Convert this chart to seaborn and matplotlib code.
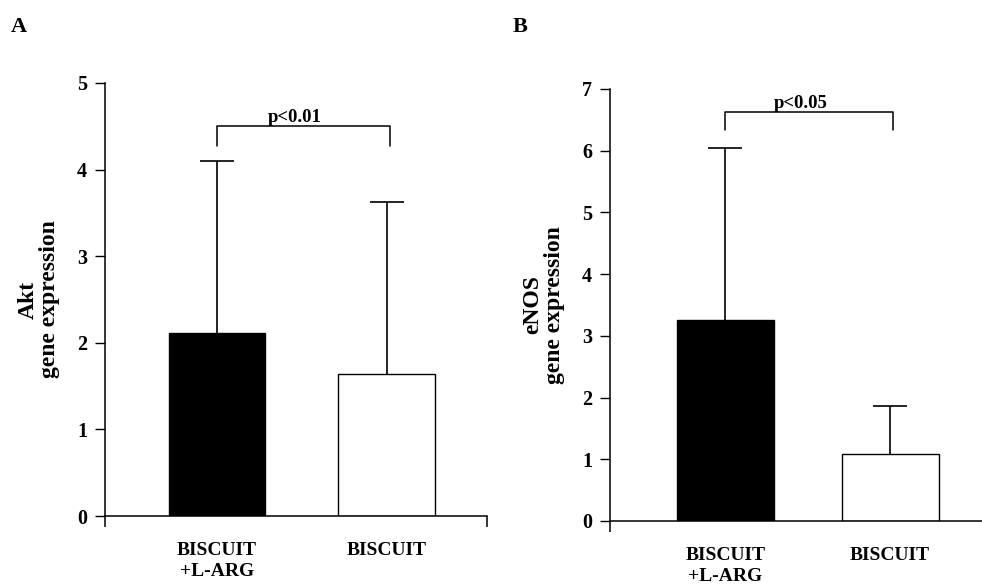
import numpy as np
import matplotlib
matplotlib.use("Agg")
import matplotlib.pyplot as plt
import seaborn as sns
import pandas as pd

sns.set_style("ticks")
plt.rcParams["font.family"] = ["Liberation Serif", "DejaVu Serif"]
plt.rcParams["font.weight"] = "bold"
for k in ["text.color", "axes.labelcolor", "xtick.color", "ytick.color", "axes.edgecolor"]:
    plt.rcParams[k] = "black"

# datos
grupos = ["BISCUIT\n+L-ARG", "BISCUIT"]
colores = ["black", "white"]

akt_media = [2.11, 1.64]
akt_error = [1.99, 1.99]      # hasta 4.10 y 3.63
enos_media = [3.26, 1.09]
enos_error = [2.79, 0.78]     # hasta 6.05 y 1.87

paneles = [
    dict(letra="A", ylabel="Akt\ngene expression", media=akt_media, err=akt_error,
         ymax=5, p="p<0.01", brack_y=4.50, brack_leg=4.27,
         pos=[105, 516, 487, 83], xlim=(-0.66, 1.59), ancho=0.57, letra_xy=(11, 32)),
    dict(letra="B", ylabel="eNOS\ngene expression", media=enos_media, err=enos_error,
         ymax=7, p="p<0.05", brack_y=6.62, brack_leg=6.34,
         pos=[610, 521, 989, 89], xlim=(-0.70, 1.60), ancho=0.59, letra_xy=(513, 32)),
]

W, H = 982, 585
fig = plt.figure(figsize=(W / 100, H / 100), dpi=100)

for pn in paneles:
    x0, y0, x1, y1 = pn["pos"]
    ax = fig.add_axes([x0 / W, (H - y0) / H, (x1 - x0) / W, (y0 - y1) / H])
    df = pd.DataFrame({"grupo": grupos, "valor": pn["media"]})
    sns.barplot(data=df, x="grupo", y="valor", hue="grupo", palette=colores,
                edgecolor="black", linewidth=1.0, width=pn["ancho"],
                legend=False, ax=ax, zorder=2)
    eb = ax.errorbar(range(len(grupos)), pn["media"],
                     yerr=[np.zeros(len(grupos)), pn["err"]],
                     fmt="none", ecolor="black", elinewidth=1.2, capsize=12,
                     capthick=1.2, zorder=1)
    eb[1][0].set_visible(False)  # sin tapa inferior

    # corchete de significancia
    ax.plot([0, 0, 1.02, 1.02],
            [pn["brack_leg"], pn["brack_y"], pn["brack_y"], pn["brack_leg"]],
            color="black", lw=1.1, clip_on=False)
    ax.text(0.46, pn["brack_y"], pn["p"], ha="center", va="bottom",
            fontsize=13.5, fontweight="bold")

    ax.set_xlim(*pn["xlim"])
    ax.set_ylim(0, pn["ymax"])
    ax.set_yticks(range(pn["ymax"] + 1))
    ax.set_xticks(range(len(grupos)))
    ax.set_xticklabels(grupos, fontsize=14, fontweight="bold", linespacing=1.3)
    ax.set_xticks(list(pn["xlim"]), minor=True)
    ax.tick_params(axis="x", which="major", length=0, pad=19)
    ax.tick_params(axis="x", which="minor", length=8, width=1.1, direction="out")
    ax.tick_params(axis="y", length=7, width=1.0, direction="out", pad=6, labelsize=14.5)
    for t in ax.get_yticklabels():
        t.set_fontweight("bold")
    ax.set_xlabel("")
    ax.set_ylabel(pn["ylabel"], fontsize=17, fontweight="bold", linespacing=1.05,
                  labelpad=12)
    sns.despine(ax=ax)
    for s in ["left", "bottom"]:
        ax.spines[s].set_linewidth(1.1)

    fig.text(pn["letra_xy"][0] / W, 1 - pn["letra_xy"][1] / H, pn["letra"],
             fontsize=16, fontweight="bold", ha="left", va="baseline")

fig.savefig("out.png", dpi=100)
